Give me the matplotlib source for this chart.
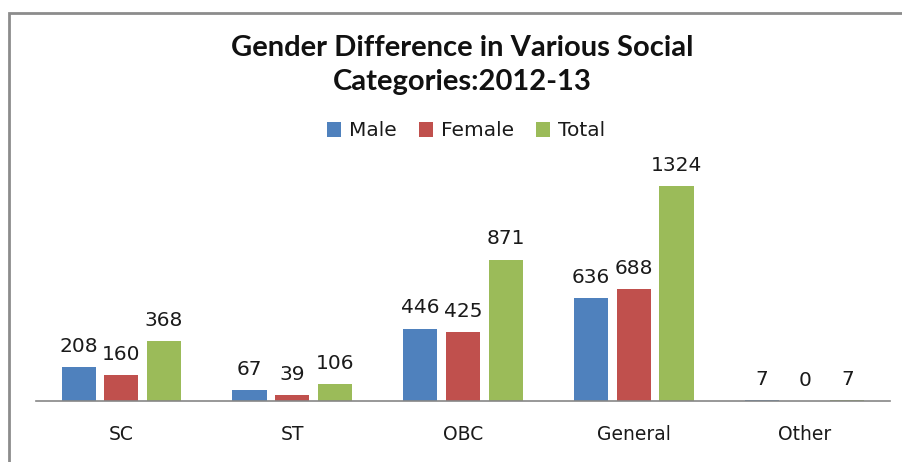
import matplotlib
matplotlib.use("Agg")
import matplotlib.pyplot as plt
from matplotlib.patches import Rectangle
import numpy as np

categories = ["SC", "ST", "OBC", "General", "Other"]
male = [208, 67, 446, 636, 7]
female = [160, 39, 425, 688, 0]
total = [368, 106, 871, 1324, 7]
series_names = ["Male", "Female", "Total"]
colors = ["#4F81BD", "#C0504D", "#9BBB59"]
title = "Gender Difference in Various Social\nCategories:2012-13"

W, H = 902, 462
fig = plt.figure(figsize=(W / 100, H / 100), dpi=100)
ax = fig.add_axes([36 / W, (H - 401) / H, (890 - 36) / W, (401 - 157.4) / H])

x = np.arange(len(categories))
width = 0.2
offsets = [-0.25, 0.0, 0.25]
for vals, name, col, off in zip([male, female, total], series_names, colors, offsets):
    bars = ax.bar(x + off, vals, width, color=col, label=name, linewidth=0)
    for b, v in zip(bars, vals):
        ax.annotate(str(v), (b.get_x() + b.get_width() / 2, b.get_height()),
                    xytext=(0, 8), textcoords="offset points", ha="center", va="bottom",
                    fontsize=14.5, color="#1a1a1a", family="DejaVu Sans")

ax.set_xlim(-0.5, 4.5)
ax.set_ylim(0, 1500)
ax.set_xticks(x)
ax.set_xticklabels(categories, fontsize=13.5, color="#1a1a1a", family="DejaVu Sans")
ax.tick_params(axis="x", length=0, pad=17)
ax.set_yticks([])
for s in ["top", "right", "left"]:
    ax.spines[s].set_visible(False)
ax.spines["bottom"].set_color("#868686")
ax.spines["bottom"].set_linewidth(1.2)

leg = fig.legend(loc="center", bbox_to_anchor=(466 / W, 1 - 131 / H), ncol=3, frameon=False,
                 handlelength=0.7, handleheight=0.7, handletextpad=0.4,
                 columnspacing=1.1, prop={"family": "DejaVu Sans", "size": 14.5})
for t in leg.get_texts():
    t.set_color("#1a1a1a")

fig.text(462 / W, 1 - 65 / H, title, ha="center", va="center", fontsize=21, fontweight="bold",
         family=["Lato", "DejaVu Sans"], linespacing=1.4, color="#111111")

fig.patches.append(Rectangle((8.5 / W, -0.1), 1.2, (H - 13.5) / H + 0.1, transform=fig.transFigure,
                             fill=False, edgecolor="#8c8c8c", linewidth=2))

fig.savefig("out.png", dpi=100)
